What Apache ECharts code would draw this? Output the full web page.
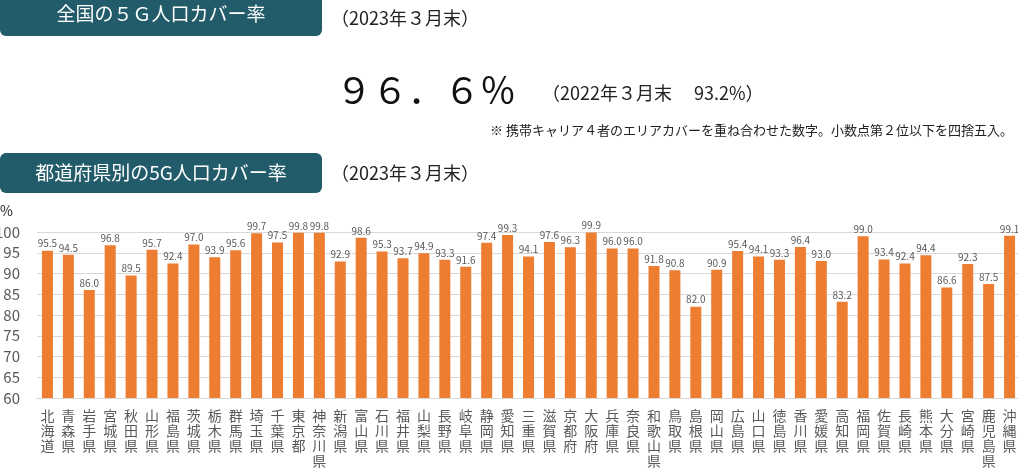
<!DOCTYPE html>
<html lang="ja">
<head>
<meta charset="utf-8">
<style>
html,body{margin:0;padding:0;background:#fff;}
#chart{width:1018px;height:468px;}
</style>
<script src="https://cdn.jsdelivr.net/npm/echarts@6/dist/echarts.min.js"></script>
</head>
<body>
<div id="chart"></div>
<script>
// === データ ===
const prefs=['北海道','青森県','岩手県','宮城県','秋田県','山形県','福島県','茨城県','栃木県','群馬県','埼玉県','千葉県','東京都','神奈川県','新潟県','富山県','石川県','福井県','山梨県','長野県','岐阜県','静岡県','愛知県','三重県','滋賀県','京都府','大阪府','兵庫県','奈良県','和歌山県','鳥取県','島根県','岡山県','広島県','山口県','徳島県','香川県','愛媛県','高知県','福岡県','佐賀県','長崎県','熊本県','大分県','宮崎県','鹿児島県','沖縄県'];
const cover=[95.5,94.5,86.0,96.8,89.5,95.7,92.4,97.0,93.9,95.6,99.7,97.5,99.8,99.8,92.9,98.6,95.3,93.7,94.9,93.3,91.6,97.4,99.3,94.1,97.6,96.3,99.9,96.0,96.0,91.8,90.8,82.0,90.9,95.4,94.1,93.3,96.4,93.0,83.2,99.0,93.4,92.4,94.4,86.6,92.3,87.5,99.1];
const yTicks=[60,65,70,75,80,85,90,95,100];

// === 色・フォント ===
const FONT='"Noto Sans CJK JP","Noto Sans",sans-serif';
const HEAD='#225C6B', BAR='#ED7D31', GRAY='#595959', GRID='#D9D9D9';

const chart=echarts.init(document.getElementById('chart'),null,{renderer:'canvas'});

function headBox(y,h,label,fs){
  return [
    {type:'rect',shape:{x:0,y:y,width:322,height:h,r:6},style:{fill:HEAD}},
    {type:'text',x:161,y:y+h/2,style:{text:label,fill:'#fff',font:fs+'px '+FONT,align:'center',verticalAlign:'middle'}}
  ];
}

chart.setOption({
  animation:false,
  textStyle:{fontFamily:FONT},
  grid:{left:37,right:-2,top:232,bottom:70,containLabel:false,outerBoundsMode:'none'},
  xAxis:{
    type:'category',data:prefs,
    axisLine:{lineStyle:{color:GRID}},
    axisTick:{show:false},
    axisLabel:{interval:0,margin:10,color:GRAY,fontSize:14,lineHeight:15,
      formatter:v=>v.split('').join('\n')}
  },
  yAxis:{
    type:'value',min:yTicks[0],max:yTicks[yTicks.length-1],interval:5,
    axisLine:{show:false},axisTick:{show:false},
    axisLabel:{color:GRAY,fontSize:15,margin:17},
    splitLine:{lineStyle:{color:GRID,width:1}}
  },
  series:[{
    type:'bar',data:cover,barWidth:11,
    itemStyle:{color:BAR},
    label:{show:true,position:'top',distance:2,color:GRAY,fontSize:10,formatter:p=>p.value.toFixed(1)}
  }],
  graphic:[
    ...headBox(-8,44,'全国の５Ｇ人口カバー率',19),
    {type:'text',x:331,y:18,style:{text:'（2023年３月末）',fill:'#222',font:'18px '+FONT,verticalAlign:'middle'}},
    {type:'text',x:336,y:90,style:{text:'９６．６％',fill:'#111',font:'36px '+FONT,verticalAlign:'middle'}},
    {type:'text',x:542,y:93,style:{text:'（2022年３月末　 93.2%）',fill:'#222',font:'18px '+FONT,verticalAlign:'middle'}},
    {type:'text',x:1013,y:130,style:{text:'※ 携帯キャリア４者のエリアカバーを重ね合わせた数字。小数点第２位以下を四捨五入。',fill:'#222',font:'13px '+FONT,align:'right',verticalAlign:'middle'}},
    ...headBox(153,40,'都道府県別の5G人口カバー率',19),
    {type:'text',x:331,y:173,style:{text:'（2023年３月末）',fill:'#222',font:'18px '+FONT,verticalAlign:'middle'}},
    {type:'text',x:0,y:211,style:{text:'%',fill:'#222',font:'14px '+FONT,verticalAlign:'middle'}}
  ]
});
</script>
</body>
</html>
